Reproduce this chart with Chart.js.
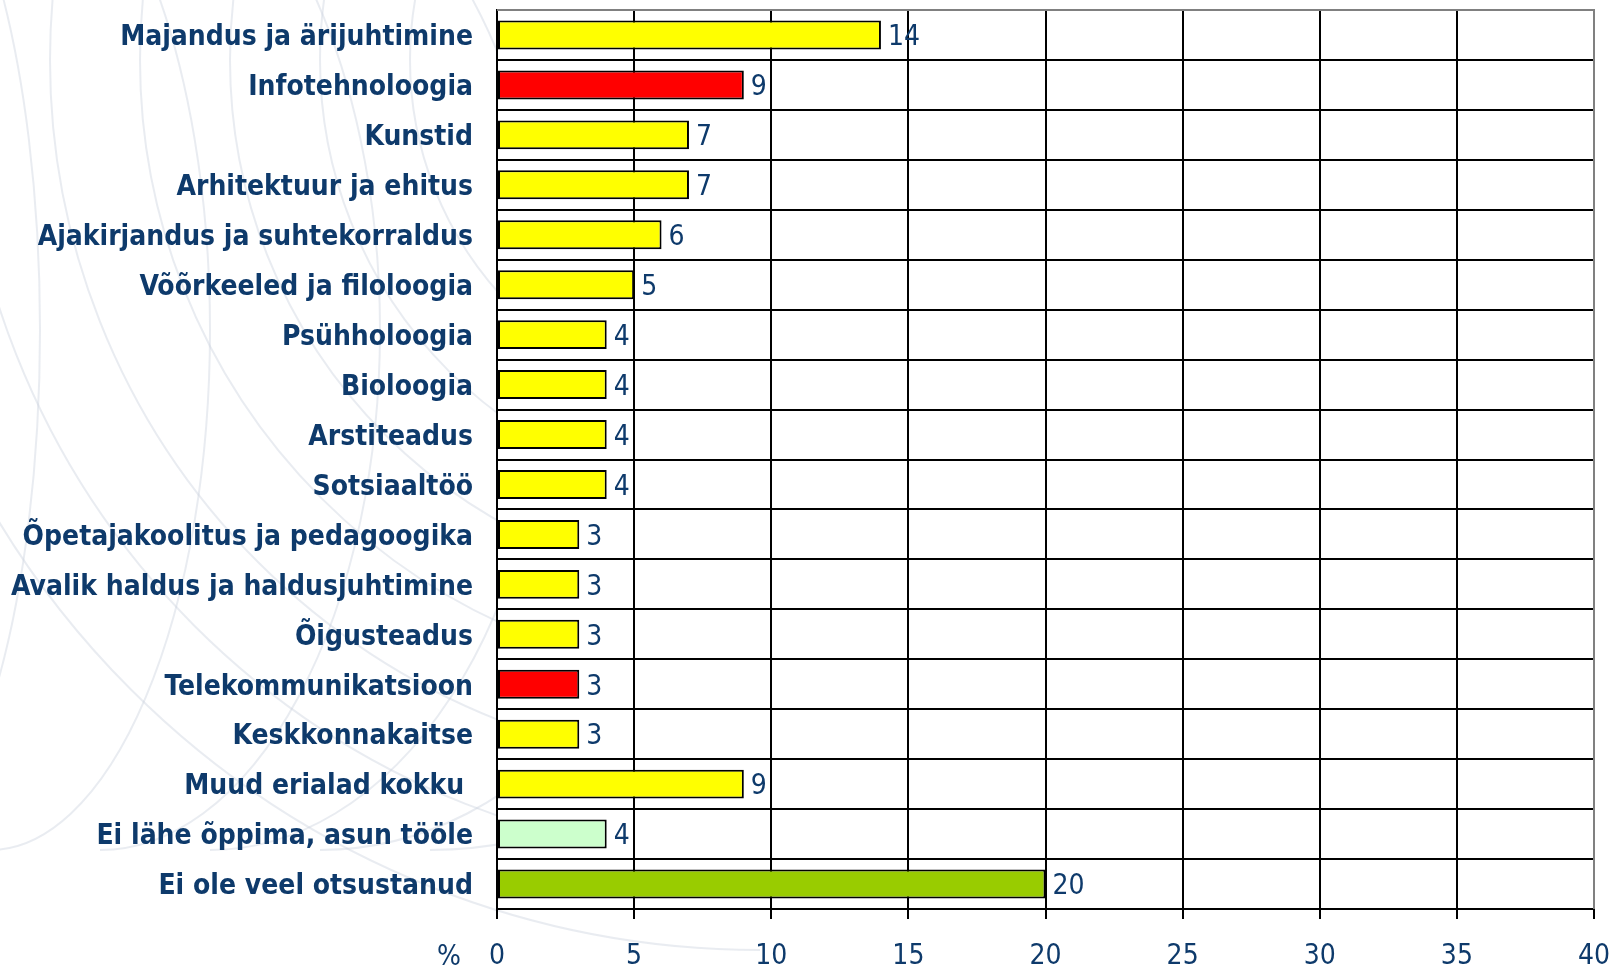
<!DOCTYPE html>
<html>
<head>
<meta charset="utf-8">
<script src="https://cdn.jsdelivr.net/npm/chart.js@4.4.1/dist/chart.umd.min.js"></script>
<style>
  html, body { margin:0; padding:0; background:#fff; }
  #wrap { width:1612px; height:965px; position:relative; }
</style>
</head>
<body>
<div id="wrap"><canvas id="c" width="1612" height="965"></canvas></div>
<script>
const categories = [
  "Majandus ja ärijuhtimine",
  "Infotehnoloogia",
  "Kunstid",
  "Arhitektuur ja ehitus",
  "Ajakirjandus ja suhtekorraldus",
  "Võõrkeeled ja filoloogia",
  "Psühholoogia",
  "Bioloogia",
  "Arstiteadus",
  "Sotsiaaltöö",
  "Õpetajakoolitus ja pedagoogika",
  "Avalik haldus ja haldusjuhtimine",
  "Õigusteadus",
  "Telekommunikatsioon",
  "Keskkonnakaitse",
  "Muud erialad kokku ",
  "Ei lähe õppima, asun tööle",
  "Ei ole veel otsustanud"
];
const values = [14, 9, 7, 7, 6, 5, 4, 4, 4, 4, 3, 3, 3, 3, 3, 9, 4, 20];
const barColors = [
  "#ffff00", "#ff0000", "#ffff00", "#ffff00", "#ffff00", "#ffff00",
  "#ffff00", "#ffff00", "#ffff00", "#ffff00", "#ffff00", "#ffff00",
  "#ffff00", "#ff0000", "#ffff00", "#ffff00", "#ccffcc", "#99cc00"
];
const xTicks = [0, 5, 10, 15, 20, 25, 30, 35, 40];

const NAVY = "#0e3a6b";
const FONT = "'DejaVu Sans Condensed', 'DejaVu Sans', sans-serif";

// faint globe-like lines behind the labels, white plot area on top of them
const backdrop = {
  id: "backdrop",
  beforeDraw(chart){
    const ctx = chart.ctx;
    const a = chart.chartArea;
    ctx.save();
    ctx.strokeStyle = "rgba(200,208,220,0.4)";
    ctx.lineWidth = 2;
    for (let r = 260; r <= 900; r += 90){
      ctx.beginPath();
      ctx.arc(760, 60, r, Math.PI * 0.5, Math.PI * 1.15);
      ctx.stroke();
    }
    for (let k = 0; k < 7; k++){
      ctx.beginPath();
      ctx.ellipse(-120 + k * 110, 330, 160 + k * 60, 520, 0, -Math.PI * 0.5, Math.PI * 0.5);
      ctx.stroke();
    }
    ctx.fillStyle = "#fff";
    ctx.fillRect(a.left, 0, chart.width - a.left, a.bottom);
    ctx.restore();
  }
};

// value labels next to the bars, the "%" in front of the x ticks, grey frame
const labelsPlugin = {
  id: "labels",
  afterDatasetsDraw(chart){
    const ctx = chart.ctx;
    const meta = chart.getDatasetMeta(0);
    ctx.save();
    ctx.fillStyle = NAVY;
    ctx.font = "28px " + FONT;
    ctx.textBaseline = "middle";
    ctx.textAlign = "left";
    meta.data.forEach((bar, i)=>{
      ctx.fillText(String(values[i]), bar.x + 7, bar.y + 3);
    });
    const xs = chart.scales.x;
    ctx.textAlign = "right";
    ctx.fillText("%", xs.left - 36, 958);
    ctx.restore();
  },
  afterDraw(chart){
    const a = chart.chartArea;
    const ctx = chart.ctx;
    ctx.save();
    ctx.strokeStyle = "#808080";
    ctx.lineWidth = 2;
    ctx.beginPath();
    ctx.moveTo(a.left, a.top);
    ctx.lineTo(a.right, a.top);
    ctx.lineTo(a.right, a.bottom);
    ctx.stroke();
    ctx.restore();
  }
};

new Chart(document.getElementById("c"), {
  type: "bar",
  data: {
    labels: categories,
    datasets: [{
      data: values,
      backgroundColor: barColors,
      borderColor: "#000",
      borderWidth: 2,
      borderSkipped: false,
      barPercentage: 0.58,
      categoryPercentage: 1.0
    }]
  },
  options: {
    indexAxis: "y",
    responsive: false,
    animation: false,
    layout: { padding: { top: 10, right: 18, left: 0, bottom: 0 } },
    plugins: { legend: { display: false }, tooltip: { enabled: false } },
    scales: {
      x: {
        min: 0, max: 40,
        afterBuildTicks: s => { s.ticks = xTicks.map(v => ({ value: v })); },
        afterFit: s => { s.height = 56; s.paddingLeft = 0; s.paddingRight = 0; },
        grid: { color: "#000", lineWidth: 2, tickLength: 10, drawTicks: true },
        border: { color: "#000", width: 2 },
        ticks: { color: NAVY, padding: 21, font: { family: FONT, size: 28 } }
      },
      y: {
        afterFit: s => { s.width = 497; s.paddingTop = 0; s.paddingBottom = 0; },
        grid: { color: "#000", lineWidth: 2, drawTicks: false, offset: true },
        border: { color: "#000", width: 2 },
        ticks: { color: NAVY, padding: 24, labelOffset: 3, font: { family: FONT, size: 28, weight: "bold" } }
      }
    }
  },
  plugins: [backdrop, labelsPlugin]
});
</script>
</body>
</html>
